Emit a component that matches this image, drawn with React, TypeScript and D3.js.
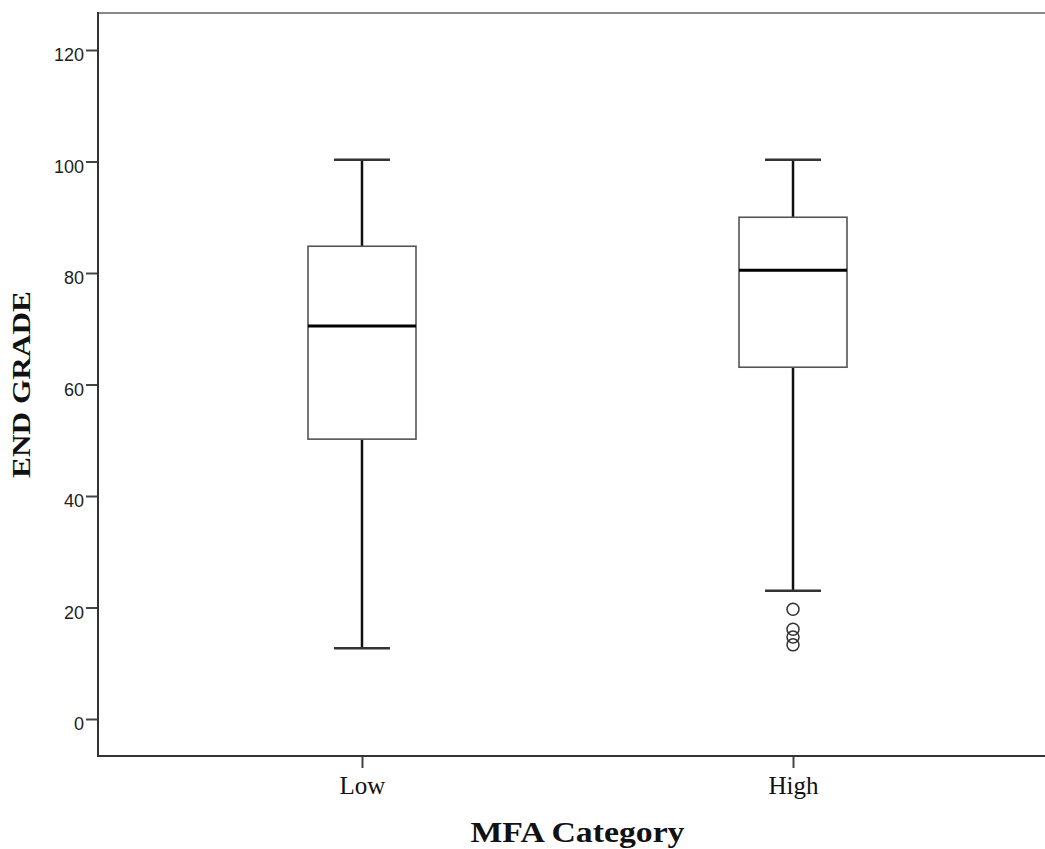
import React, { useEffect, useRef } from "react";
import * as d3 from "d3";

// group names and box statistics
const categories = ["Low", "High"];
const whiskerLow = [12.7, 23.0];
const quartile1 = [50.2, 63.1];
const medians = [70.5, 80.5];
const quartile3 = [84.8, 90.0];
const whiskerHigh = [100.3, 100.3];
const outliers = [[], [19.7, 16.1, 14.7, 13.3]];
const yTicks = [0, 20, 40, 60, 80, 100, 120];

export default function App() {
  const svgRef = useRef<SVGSVGElement>(null);

  useEffect(() => {
    const svg = d3.select(svgRef.current);
    svg.selectAll("*").remove();

    const width = 1045;
    const height = 849;
    // the plot area runs past the right edge of the window, as in the picture
    const plot = { top: 13, left: 98, right: 1057, bottom: 756 };

    // y range chosen so that 0 and 120 land where the picture has them
    const y = d3.scaleLinear().domain([0, 120]).range([719, 50]);

    const x = d3.scalePoint<string>()
      .domain(categories)
      .range([plot.left, plot.right])
      .padding(0.6125);

    svg.attr("width", width).attr("height", height);

    const boxHalf = 54;
    const capHalf = 28;
    const serif = "'Liberation Serif', 'Times New Roman', serif";

    // top border line
    svg.append("line")
      .attr("x1", plot.left).attr("x2", width)
      .attr("y1", plot.top).attr("y2", plot.top)
      .attr("stroke", "#888").attr("stroke-width", 2);

    categories.forEach((c, i) => {
      const cx = x(c)!;
      const g = svg.append("g");

      // whiskers
      g.append("line")
        .attr("x1", cx).attr("x2", cx)
        .attr("y1", y(whiskerHigh[i])).attr("y2", y(quartile3[i]))
        .attr("stroke", "#111").attr("stroke-width", 2.5);
      g.append("line")
        .attr("x1", cx).attr("x2", cx)
        .attr("y1", y(quartile1[i])).attr("y2", y(whiskerLow[i]))
        .attr("stroke", "#111").attr("stroke-width", 2.5);
      [whiskerHigh[i], whiskerLow[i]].forEach((v) => {
        g.append("line")
          .attr("x1", cx - capHalf).attr("x2", cx + capHalf)
          .attr("y1", y(v)).attr("y2", y(v))
          .attr("stroke", "#333").attr("stroke-width", 2.5);
      });

      // box
      g.append("rect")
        .attr("x", cx - boxHalf)
        .attr("y", y(quartile3[i]))
        .attr("width", boxHalf * 2)
        .attr("height", y(quartile1[i]) - y(quartile3[i]))
        .attr("fill", "#fff")
        .attr("stroke", "#555")
        .attr("stroke-width", 1.6);

      // median
      g.append("line")
        .attr("x1", cx - boxHalf).attr("x2", cx + boxHalf)
        .attr("y1", y(medians[i])).attr("y2", y(medians[i]))
        .attr("stroke", "#000").attr("stroke-width", 3);

      // outliers
      g.selectAll("circle")
        .data(outliers[i])
        .enter()
        .append("circle")
        .attr("cx", cx)
        .attr("cy", (d) => y(d))
        .attr("r", 6)
        .attr("fill", "none")
        .attr("stroke", "#333")
        .attr("stroke-width", 1.5);
    });

    // y axis
    const yAxis = svg.append("g")
      .attr("transform", `translate(${plot.left},0)`)
      .call(d3.axisLeft(y).tickValues(yTicks).tickSize(12).tickPadding(2));
    yAxis.select(".domain").remove();
    yAxis.append("line")
      .attr("x1", 0).attr("x2", 0)
      .attr("y1", plot.top - 1).attr("y2", plot.bottom + 1)
      .attr("stroke", "#333").attr("stroke-width", 2);
    yAxis.selectAll(".tick line").attr("stroke", "#444").attr("stroke-width", 2);
    yAxis.selectAll(".tick text")
      .attr("fill", "#222")
      .attr("dy", "0.6em")
      .attr("font-family", "'Liberation Sans', Arial, sans-serif")
      .attr("font-size", "18px");

    // x axis
    const xAxis = svg.append("g")
      .attr("transform", `translate(0,${plot.bottom})`)
      .call(d3.axisBottom(x).tickSize(12).tickPadding(8));
    xAxis.select(".domain").remove();
    xAxis.append("line")
      .attr("x1", plot.left - 1).attr("x2", width)
      .attr("y1", 0).attr("y2", 0)
      .attr("stroke", "#333").attr("stroke-width", 2);
    xAxis.selectAll(".tick line").attr("stroke", "#444").attr("stroke-width", 2);
    xAxis.selectAll(".tick text")
      .attr("fill", "#111")
      .attr("font-family", serif)
      .attr("font-size", "25px");

    // axis titles, centred on the plot area
    svg.append("text")
      .attr("x", (plot.left + plot.right) / 2)
      .attr("y", 842)
      .attr("text-anchor", "middle")
      .attr("font-family", serif)
      .attr("font-weight", "bold")
      .attr("font-size", "30px")
      .attr("textLength", 214)
      .attr("lengthAdjust", "spacingAndGlyphs")
      .attr("fill", "#111")
      .text("MFA Category");

    svg.append("text")
      .attr("transform", "rotate(-90)")
      .attr("x", -(plot.top + plot.bottom) / 2)
      .attr("y", 30)
      .attr("text-anchor", "middle")
      .attr("font-family", serif)
      .attr("font-weight", "bold")
      .attr("font-size", "26px")
      .attr("textLength", 187)
      .attr("lengthAdjust", "spacingAndGlyphs")
      .attr("fill", "#111")
      .text("END GRADE");
  }, []);

  return (
    <div style={{ position: "absolute", top: 0, left: 0, background: "#fff" }}>
      <svg ref={svgRef} style={{ display: "block" }}></svg>
    </div>
  );
}
